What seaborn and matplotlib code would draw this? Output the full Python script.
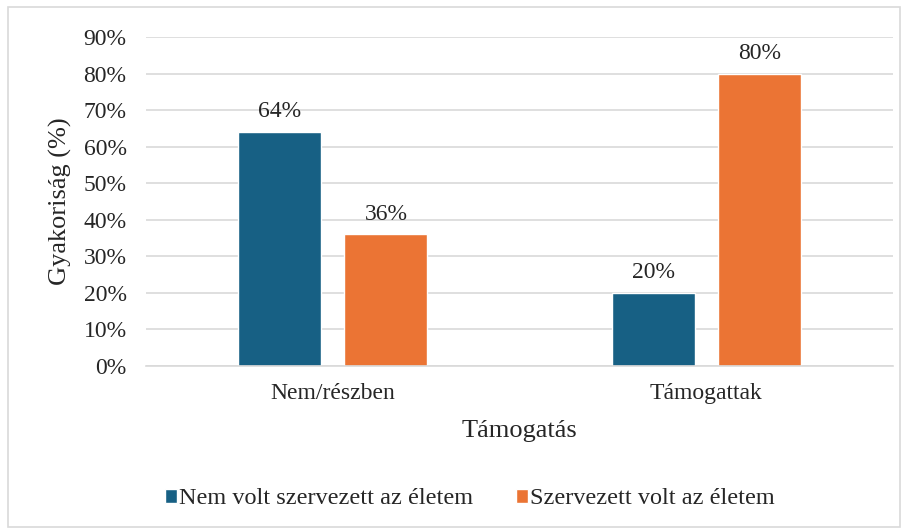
import matplotlib
matplotlib.use("Agg")
import matplotlib.pyplot as plt
import seaborn as sns
import pandas as pd
from matplotlib.patches import Rectangle

kategoriak = ["Nem/részben", "Támogattak"]
csoportok = ["Nem volt szervezett az életem", "Szervezett volt az életem"]
nem_szervezett = [64, 20]
szervezett = [36, 80]
szinek = ["#176084", "#EB7434"]

df = pd.DataFrame({
    "Támogatás": kategoriak * 2,
    "Csoport": [csoportok[0]] * 2 + [csoportok[1]] * 2,
    "Érték": nem_szervezett + szervezett,
})

sns.set_style("white")
plt.rcParams["font.family"] = ["Liberation Serif", "DejaVu Serif"]

fig = plt.figure(figsize=(9.08, 5.30), dpi=100)
ax = fig.add_axes([146 / 908, 1 - 366 / 530, (893 - 146) / 908, (366 - 37) / 530])

sns.barplot(data=df, x="Támogatás", y="Érték", hue="Csoport", hue_order=csoportok,
            palette=szinek, width=0.57, gap=0.22, ax=ax, saturation=1, legend=True)

for cont in ax.containers:
    ax.bar_label(cont, labels=[f"{v:.0f}%" for v in cont.datavalues], padding=7, fontsize=17)

ax.set_ylim(0, 90)
ax.set_xlim(-0.5, 1.5)
ax.set_yticks(range(0, 91, 10))
ax.set_yticklabels([f"{v}%" for v in range(0, 91, 10)], fontsize=17)
ax.tick_params(axis="x", labelsize=17, length=0, pad=12)
ax.tick_params(axis="y", length=0, pad=14)
ax.yaxis.grid(True, color="#d9d9d9", linewidth=1.2)
ax.set_axisbelow(True)
for s in ["top", "right", "left"]:
    ax.spines[s].set_visible(False)
ax.spines["bottom"].set_color("#d9d9d9")
ax.spines["bottom"].set_linewidth(1.2)

ax.set_xlabel("Támogatás", fontsize=19, labelpad=12)
ax.set_ylabel("Gyakoriság (%)", fontsize=19, labelpad=8)

handles, labels = ax.get_legend_handles_labels()
ax.get_legend().remove()
fig.legend(handles, labels, loc="center", bbox_to_anchor=(470 / 908, 1 - 499 / 530), ncol=2,
           frameon=False, fontsize=17.5, handlelength=0.5, handleheight=0.5,
           handletextpad=0.08, columnspacing=1.75, borderaxespad=0, borderpad=0)

fig.patches.append(Rectangle((8 / 908, 3 / 530), 892 / 908, 520 / 530, transform=fig.transFigure,
                             fill=False, edgecolor="#d9d9d9", linewidth=1.2))

fig.savefig("out.png", dpi=100)
